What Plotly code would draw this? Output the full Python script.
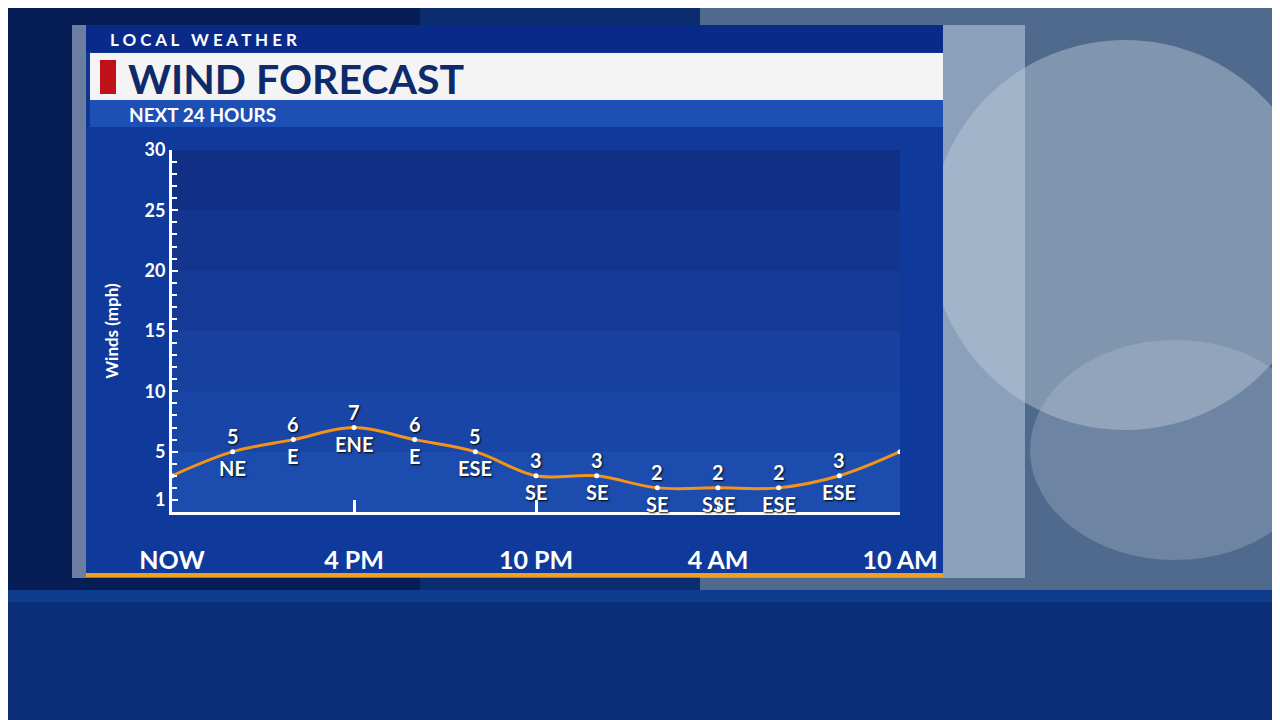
import plotly.graph_objects as go

hours = [0, 2, 4, 6, 8, 10, 12, 14, 16, 18, 20, 22, 24]
speeds = [3, 5, 6, 7, 6, 5, 3, 3, 2, 2, 2, 3, 5]
dirs = ["", "NE", "E", "ENE", "E", "ESE", "SE", "SE", "SE", "SSE", "ESE", "ESE", ""]
tick_hours = [0, 6, 12, 18, 24]
tick_names = ["NOW", "4 PM", "10 PM", "4 AM", "10 AM"]
y_ticks = [1, 5, 10, 15, 20, 25, 30]

# page offset of the figure inside the browser window
OFF = 8
# plot area in window pixels
L, R, T, B = 172, 900, 150, 512
def px(x): return (x - L) / (R - L)
def py(y): return (B - y) / (B - T)

def rect(x0, y0, x1, y1, color, layer="below"):
    return dict(type="rect", xref="paper", yref="paper", x0=px(x0), x1=px(x1),
                y0=py(y1), y1=py(y0), fillcolor=color, layer=layer, line=dict(width=0))

shapes = [
    rect(-20, -20, 1300, 740, "#0b2a6e"),
    rect(-20, -20, 420, 600, "#071d55"),
    rect(420, -20, 700, 600, "#0c2c70"),
    rect(700, -20, 1300, 600, "#4f6a8c"),
    dict(type="circle", xref="paper", yref="paper", x0=px(930), x1=px(1320), y0=py(430), y1=py(40),
         fillcolor="rgba(220,228,238,0.35)", line=dict(width=0), layer="below"),
    dict(type="circle", xref="paper", yref="paper", x0=px(1030), x1=px(1320), y0=py(560), y1=py(340),
         fillcolor="rgba(200,212,228,0.25)", line=dict(width=0), layer="below"),
    rect(-20, 590, 1300, 740, "#0d3c8c"),
    rect(-20, 602, 1300, 740, "#0a2f78"),
    rect(72, 25, 1025, 578, "rgba(190,205,225,0.55)"),
    rect(86, 25, 943, 576, "#0d3591"),
    rect(86, 127, 943, 576, "#0f3a9c"),
]
# plot background, darker at top, lighter at bottom
bands = ["#112f85", "#13358e", "#153b96", "#17419e", "#1946a6", "#1b4cae"]
h = (B - T) / len(bands)
for i, c in enumerate(bands):
    shapes.append(rect(L, T + i * h, R, T + (i + 1) * h + 1, c))
shapes += [
    rect(86, 25, 943, 52, "#0a2a8a"),
    rect(90, 53, 943, 100, "#f4f4f4"),
    rect(100, 60, 116, 94, "#c0101a"),
    rect(90, 100, 943, 127, "#1d4fb5"),
    rect(86, 573, 943, 577, "#f0a020"),
]

annotations = [
    dict(x=px(108), y=py(39), text="<b>L O C A L   W E A T H E R</b>", font=dict(size=17, color="white", family="Lato"),
         xanchor="left", yanchor="middle"),
    dict(x=px(126), y=py(78), text="<b>WIND FORECAST</b>", font=dict(size=41, color="#0d2a6a", family="Lato"),
         xanchor="left", yanchor="middle"),
    dict(x=px(127), y=py(114), text="<b>NEXT 24 HOURS</b>", font=dict(size=19, color="white", family="Lato"),
         xanchor="left", yanchor="middle"),
]
for a in annotations:
    a.update(xref="paper", yref="paper", showarrow=False)

lab_font = dict(size=20, color="white", family="Lato", shadow="1px 1px 2px black")
for i in range(1, 12):
    annotations.append(dict(x=hours[i], y=speeds[i], xref="x", yref="y", text=f"<b>{speeds[i]}</b>",
                            showarrow=False, yshift=16, font=lab_font))
    annotations.append(dict(x=hours[i], y=speeds[i], xref="x", yref="y", text=f"<b>{dirs[i]}</b>",
                            showarrow=False, yshift=-16, font=lab_font))

fig = go.Figure()
fig.add_trace(go.Scatter(x=hours, y=speeds, mode="lines+markers", line=dict(color="#f39419", width=3, shape="spline"),
                         marker=dict(size=5, color="white"), hoverinfo="skip"))

fig.update_layout(
    width=1280, height=720, margin=dict(l=L - OFF, r=1280 - R + OFF, t=T - OFF, b=720 - B + OFF),
    paper_bgcolor="#0b2a6e", plot_bgcolor="rgba(0,0,0,0)", showlegend=False,
    shapes=shapes, annotations=annotations,
    xaxis=dict(range=[0, 24], tickvals=tick_hours, ticktext=[f"<b>{t}</b>" for t in tick_names],
               tickfont=dict(size=25, color="white", family="Lato"), showgrid=False, zeroline=False,
               showline=True, linecolor="white", linewidth=3, ticks="inside", ticklen=12,
               tickwidth=3, tickcolor="white", ticklabelstandoff=24),
    yaxis=dict(range=[0, 30], tickvals=y_ticks, ticktext=[f"<b>{t}</b>" for t in y_ticks],
               tickfont=dict(size=18, color="white", family="Lato"), showgrid=False, zeroline=False,
               showline=True, linecolor="white", linewidth=3, ticks="inside", ticklen=6,
               tickwidth=2, tickcolor="white",
               minor=dict(dtick=1, tick0=0, ticks="inside", ticklen=5, tickcolor="white", tickwidth=2),
               title=dict(text="<b>Winds (mph)</b>", font=dict(size=17, color="white", family="Lato"),
                          standoff=22)),
)

fig.write_html("out.html")
